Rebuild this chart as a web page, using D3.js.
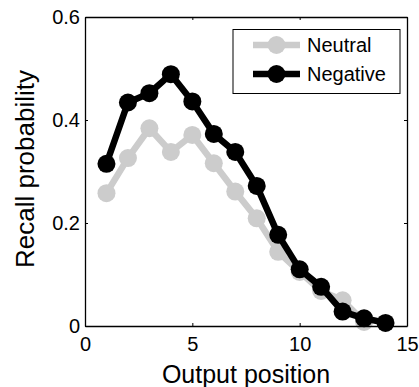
<!DOCTYPE html>
<html>
<head>
<meta charset="utf-8">
<script src="https://cdn.jsdelivr.net/npm/d3@7"></script>
<style>
    body { margin: 0; background: #ffffff; }
    text { font-family: "Liberation Sans", Arial, sans-serif; fill: #000000; }
</style>
</head>
<body>
<div id="chart"></div>
<script>
let chart_width = 419;
let chart_height = 387;

// recall curves
let neutral_positions = [1,2,3,4,5,6,7,8,9,10,11,12,13];
let neutral_values = [0.258,0.326,0.384,0.338,0.371,0.316,0.261,0.209,0.144,0.105,0.068,0.050,0.008];
let negative_positions = [1,2,3,4,5,6,7,8,9,10,11,12,13,14];
let negative_values = [0.315,0.434,0.452,0.489,0.436,0.373,0.338,0.272,0.177,0.110,0.076,0.028,0.015,0.006];

let x_ticks = [0,5,10,15];
let y_ticks = [0,0.2,0.4,0.6];
let y_tick_labels = ['0','0.2','0.4','0.6'];
let series_names = ['Neutral','Negative'];
let series_colors = ['#cccccc','#000000'];

const xScale = d3.scaleLinear().domain([0,15]).range([85,407]);
const yScale = d3.scaleLinear().domain([0,0.6]).range([326,17]);

let container = d3.select('#chart')
    .append('svg')
    .attr('width',chart_width)
    .attr('height',chart_height);

function axes_making(target){
    let bottom = target.append('g')
        .attr('transform','translate(0,'+yScale(0)+')')
        .call(d3.axisBottom(xScale).tickValues(x_ticks).tickSizeInner(-3).tickSizeOuter(0).tickPadding(11));
    let top = target.append('g')
        .attr('transform','translate(0,'+yScale(0.6)+')')
        .call(d3.axisTop(xScale).tickValues(x_ticks).tickSizeInner(-3).tickSizeOuter(0).tickFormat(''));
    let left = target.append('g')
        .attr('transform','translate('+xScale(0)+',0)')
        .call(d3.axisLeft(yScale).tickValues(y_ticks).tickSizeInner(-3).tickSizeOuter(0).tickPadding(5)
            .tickFormat((d,i)=>y_tick_labels[i]));
    let right = target.append('g')
        .attr('transform','translate('+xScale(15)+',0)')
        .call(d3.axisRight(yScale).tickValues(y_ticks).tickSizeInner(-3).tickSizeOuter(0).tickFormat(''));

    [bottom,top,left,right].forEach(function(g){
        g.select('.domain').attr('stroke','#000000').attr('stroke-width',1.3);
        g.selectAll('.tick line').attr('stroke','#000000').attr('stroke-width',1);
        g.selectAll('.tick text')
            .style('font-family','"Liberation Sans", Arial, sans-serif')
            .style('font-size','20px')
            .attr('fill','#000000');
    });
}

function series_drawer(target, positions, values, color, name){
    let data = positions.map((p,i)=>({'pos':p,'val':values[i]}));
    let line = d3.line()
        .x(d=>xScale(d.pos))
        .y(d=>yScale(d.val));

    let g = target.append('g').attr('id','series_'+name);

    g.append('path')
        .datum(data)
        .attr('d',line)
        .attr('fill','none')
        .attr('stroke',color)
        .attr('stroke-width',6.5)
        .attr('stroke-linejoin','round');

    g.selectAll('circle')
        .data(data)
        .enter()
        .append('circle')
        .attr('cx',d=>xScale(d.pos))
        .attr('cy',d=>yScale(d.val))
        .attr('r',9)
        .attr('fill',color);
}

function legend_making(target){
    let legend = target.append('g').attr('id','legend');
    legend.append('rect')
        .attr('x',233)
        .attr('y',29.5)
        .attr('width',167)
        .attr('height',64)
        .attr('fill','#ffffff')
        .attr('stroke','#000000')
        .attr('stroke-width',1);

    series_names.forEach(function(name,i){
        let yLoc = 45 + i*29;
        legend.append('line')
            .attr('x1',253)
            .attr('x2',300)
            .attr('y1',yLoc)
            .attr('y2',yLoc)
            .attr('stroke',series_colors[i])
            .attr('stroke-width',6.5);
        legend.append('circle')
            .attr('cx',276.5)
            .attr('cy',yLoc)
            .attr('r',9)
            .attr('fill',series_colors[i]);
        legend.append('text')
            .text(name)
            .attr('x',307)
            .attr('y',yLoc+7)
            .style('font-size','20px');
    });
}

series_drawer(container, neutral_positions, neutral_values, series_colors[0], 'neutral');
series_drawer(container, negative_positions, negative_values, series_colors[1], 'negative');
axes_making(container);
legend_making(container);

container.append('text')
    .text('Output position')
    .attr('x',246)
    .attr('y',383)
    .attr('text-anchor','middle')
    .style('font-size','25px');

container.append('text')
    .text('Recall probability')
    .attr('transform','translate(34,169) rotate(-90)')
    .attr('text-anchor','middle')
    .style('font-size','26px');
</script>
</body>
</html>
